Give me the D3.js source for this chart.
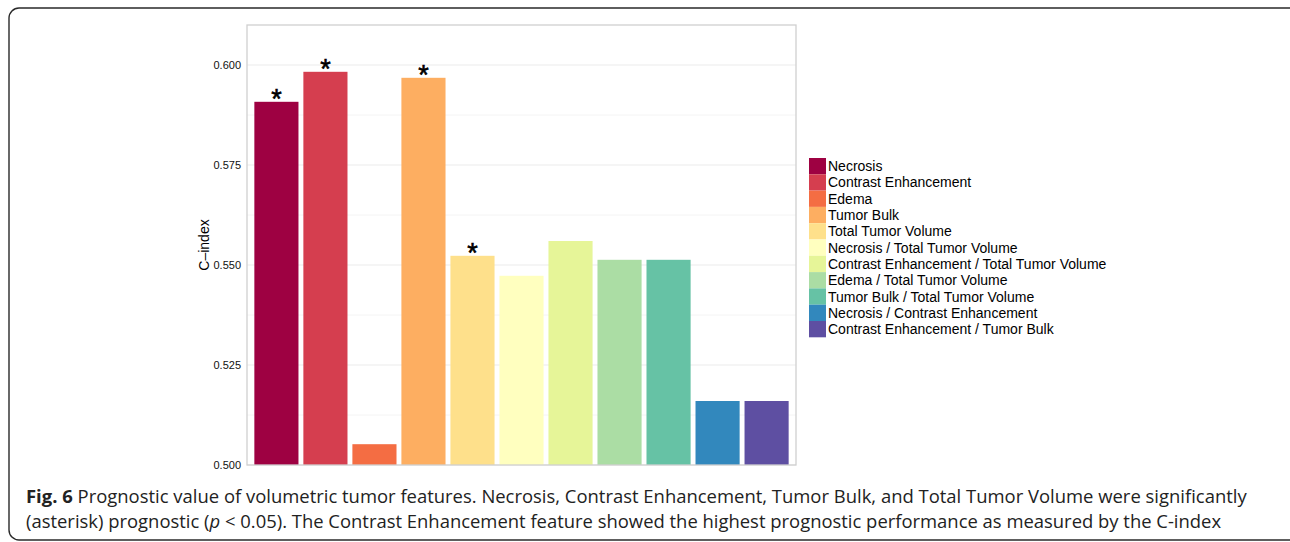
<!DOCTYPE html>
<html><head><meta charset="utf-8">
<script src="https://cdn.jsdelivr.net/npm/d3@7"></script>
<style>body{margin:0;background:#fff}svg{display:block}</style>
</head><body>
<script>
const categories = ["Necrosis","Contrast Enhancement","Edema","Tumor Bulk","Total Tumor Volume","Necrosis / Total Tumor Volume","Contrast Enhancement / Total Tumor Volume","Edema / Total Tumor Volume","Tumor Bulk / Total Tumor Volume","Necrosis / Contrast Enhancement","Contrast Enhancement / Tumor Bulk"];
const cIndex = [0.5908,0.5983,0.5052,0.5968,0.5523,0.5473,0.5560,0.5513,0.5513,0.5160,0.5160];
const significant = [true,true,false,true,true,false,false,false,false,false,false];
const colors = ["#9E0142","#D53E4F","#F46D43","#FDAE61","#FEE08B","#FFFFBF","#E6F598","#ABDDA4","#66C2A5","#3288BD","#5E4FA2"];
const yTicks = [0.500,0.525,0.550,0.575,0.600];
const yMinor = [0.5125,0.5375,0.5625,0.5875];
const yLabel = "C\u2013index";
const captionBold = "Fig. 6";
const captionLine1 = " Prognostic value of volumetric tumor features. Necrosis, Contrast Enhancement, Tumor Bulk, and Total Tumor Volume were significantly";
const captionLine2a = "(asterisk) prognostic (";
const captionLine2p = "p";
const captionLine2b = " < 0.05). The Contrast Enhancement feature showed the highest prognostic performance as measured by the C-index";

const W = 1290, H = 542;
const svg = d3.select("body").append("svg").attr("width", W).attr("height", H);

// outer frame
svg.append("rect").attr("x", 9).attr("y", 8).attr("width", 1290).attr("height", 532)
  .attr("rx", 10).attr("fill", "none").attr("stroke", "#2a2a2a").attr("stroke-width", 1.4);

const pL = 247, pR = 796, pT = 25, pB = 465;
const x = d3.scaleBand().domain(categories).range([pL, pR]).paddingInner(0.1).paddingOuter(0.15);
const y = d3.scaleLinear().domain([0.5, 0.61]).range([pB, pT]);

const font = "'Liberation Sans', Arial, Helvetica, sans-serif";

// grid
svg.append("g").selectAll("line").data(yMinor).join("line")
  .attr("x1", pL).attr("x2", pR).attr("y1", d => y(d)).attr("y2", d => y(d))
  .attr("stroke", "#f4f4f4").attr("stroke-width", 1);
svg.append("g").selectAll("line").data(yTicks).join("line")
  .attr("x1", pL).attr("x2", pR).attr("y1", d => y(d)).attr("y2", d => y(d))
  .attr("stroke", "#ebebeb").attr("stroke-width", 1.2);

// bars
svg.append("g").selectAll("rect").data(categories).join("rect")
  .attr("x", d => x(d)).attr("width", x.bandwidth())
  .attr("y", (d, i) => y(cIndex[i])).attr("height", (d, i) => y(0.5) - y(cIndex[i]))
  .attr("fill", (d, i) => colors[i]);

// asterisks
svg.append("g").selectAll("text").data(categories.filter((d, i) => significant[i])).join("text")
  .attr("x", d => x(d) + x.bandwidth() / 2)
  .attr("y", d => y(cIndex[categories.indexOf(d)]) + 6)
  .attr("text-anchor", "middle").attr("font-family", font).attr("font-size", 27)
  .attr("fill", "#000").attr("stroke", "#000").attr("stroke-width", 0.6).text("*");

// panel border
svg.append("rect").attr("x", pL).attr("y", pT).attr("width", pR - pL).attr("height", pB - pT)
  .attr("fill", "none").attr("stroke", "#d0d0d0").attr("stroke-width", 1.3);

// y axis
const yAxis = d3.axisLeft(y).tickValues(yTicks).tickFormat(d3.format(".3f")).tickSize(0).tickPadding(6);
const ga = svg.append("g").attr("transform", `translate(${pL},0)`).call(yAxis);
ga.select(".domain").remove();
ga.selectAll("text").attr("font-family", font).attr("font-size", 11).attr("fill", "#111");

svg.append("text").attr("transform", `translate(209,${(pT + pB) / 2}) rotate(-90)`)
  .attr("text-anchor", "middle").attr("font-family", font).attr("font-size", 14).attr("fill", "#000")
  .text(yLabel);

// legend
const lx = 809, ly = 158, rowH = 16.3;
const lg = svg.append("g");
lg.selectAll("rect").data(categories).join("rect")
  .attr("x", lx).attr("y", (d, i) => ly + i * rowH).attr("width", 17).attr("height", rowH)
  .attr("fill", (d, i) => colors[i]);
lg.selectAll("text").data(categories).join("text")
  .attr("x", lx + 19).attr("y", (d, i) => ly + i * rowH + rowH / 2).attr("dy", "0.36em")
  .attr("font-family", font).attr("font-size", 14).attr("fill", "#000").text(d => d);

// caption
const cfont = "'Open Sans', 'Noto Sans', sans-serif";
const c1 = svg.append("text").attr("x", 26).attr("y", 503).attr("font-family", cfont).attr("fill", "#222");
c1.append("tspan").attr("font-weight", "bold").text(captionBold);
c1.append("tspan").text(captionLine1);
const c2 = svg.append("text").attr("x", 26).attr("y", 528).attr("font-family", cfont).attr("fill", "#222");
c2.append("tspan").text(captionLine2a);
c2.append("tspan").attr("font-style", "italic").text(captionLine2p);
c2.append("tspan").text(captionLine2b);
function fit(t, target) {
  t.attr("font-size", 16);
  const w = t.node().getComputedTextLength();
  t.attr("font-size", 16 * target / w);
}
fit(c1, 1222);
fit(c2, 1196);
</script>
</body></html>
